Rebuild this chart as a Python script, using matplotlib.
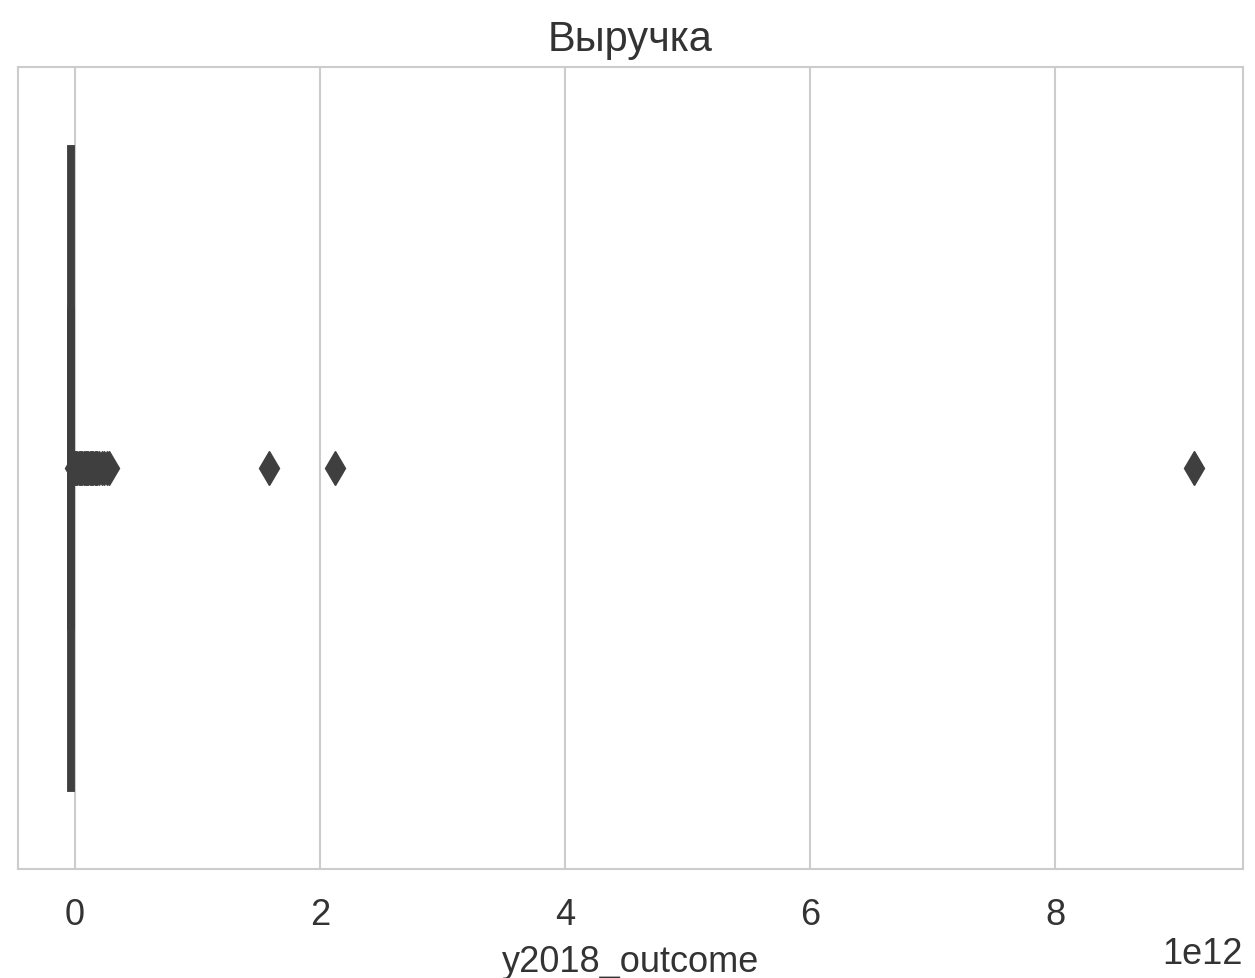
import matplotlib
matplotlib.use("Agg")
import matplotlib.pyplot as plt
import seaborn as sns

sns.set_style("whitegrid")
plt.rcParams['font.family'] = ['Liberation Sans', 'DejaVu Sans']

# box statistics for y2018_outcome (in units of 1e12)
scale = 1e12
q1, med, q3 = -0.045, -0.035, -0.025
whislo, whishi = -0.045, -0.02
# outliers (units of 1e12)
fliers = [0.0, 0.01, 0.02, 0.03, 0.04, 0.05, 0.06, 0.07, 0.08, 0.09, 0.1,
          0.11, 0.12, 0.13, 0.14, 0.15, 0.16, 0.17, 0.18, 0.2, 0.22, 0.24,
          0.26, 0.28, 1.58, 2.12, 9.13]

stats = [{
    'med': med * scale, 'q1': q1 * scale, 'q3': q3 * scale,
    'whislo': whislo * scale, 'whishi': whishi * scale,
    'fliers': [f * scale for f in fliers],
}]

gray = '#3f3f3f'
fig = plt.figure(figsize=(12.55, 9.79), dpi=100)
ax = fig.add_axes([0.0143, 0.1113, 0.9761, 0.8192])

ax.bxp(stats, positions=[0], widths=0.8, orientation='horizontal',
       patch_artist=True, manage_ticks=False,
       boxprops=dict(facecolor=gray, edgecolor=gray, linewidth=3.5),
       medianprops=dict(color=gray, linewidth=3.5),
       whiskerprops=dict(color=gray, linewidth=3.5),
       capprops=dict(color=gray, linewidth=3.5),
       flierprops=dict(marker='d', markerfacecolor=gray, markeredgecolor=gray,
                       markersize=17))

ax.set_ylim(0.5, -0.5)
ax.set_yticks([])
ax.set_xlim(-0.465 * scale, 9.53 * scale)
ax.set_xticks([0, 2e12, 4e12, 6e12, 8e12])
ax.grid(True, axis='x', color='#cccccc', linewidth=1.5)
ax.grid(False, axis='y')
for s in ax.spines.values():
    s.set_color('#cccccc')
    s.set_linewidth(1.5)
ax.tick_params(axis='x', labelsize=26, pad=20, length=0, labelcolor='#333333')
ax.xaxis.get_offset_text().set_fontsize(26)
ax.xaxis.get_offset_text().set_color('#333333')
ax.set_xlabel('y2018_outcome', fontsize=26, color='#333333', labelpad=9)
ax.set_title('Выручка', fontsize=30, color='#333333', pad=12)

fig.savefig('out.png', dpi=100)
